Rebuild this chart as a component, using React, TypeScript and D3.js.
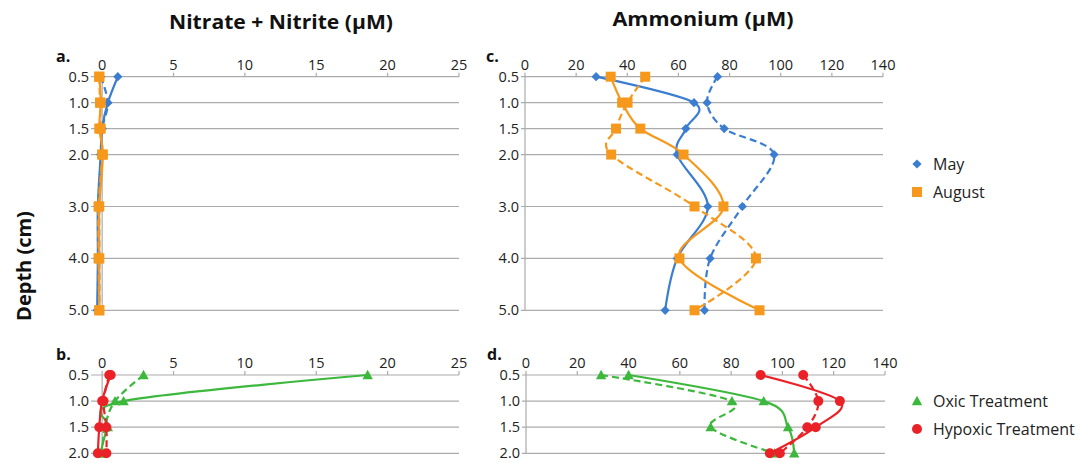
import React from 'react';
import * as d3 from 'd3';

// Depths (cm)
const depthsLong = [0.5, 1.0, 1.5, 2.0, 3.0, 4.0, 5.0];
const depthsShort = [0.5, 1.0, 1.5, 2.0];
const depthTickLabelsLong = [0.5, 1.0, 1.5, 2.0, 3.0, 4.0, 5.0];
const depthTickLabelsShort = [0.5, 1.0, 1.5, 2.0];

// x tick values
const nitrateTicks = [0, 5, 10, 15, 20, 25];
const ammoniumTicks = [0, 20, 40, 60, 80, 100, 120, 140];

// Panel a: Nitrate + Nitrite, May / August
const nitrateMaySolid = [1.1, 0.4, 0.0, -0.1, -0.3, -0.3, -0.35];
const nitrateMayDashed = [-0.1, 0.4, 0.0, -0.1, -0.2, -0.2, -0.2];
const nitrateAugSolid = [-0.2, -0.1, -0.2, 0.05, -0.2, -0.2, -0.2];
const nitrateAugDashed = [-0.2, -0.15, -0.1, 0.0, -0.25, -0.25, -0.2];

// Panel b: Nitrate + Nitrite, Oxic / Hypoxic
const nitrateOxicSolid = [18.6, 1.5, 0.4, -0.1];
const nitrateOxicDashed = [2.9, 0.9, 0.2, 0.0];
const nitrateHypoxicSolid = [0.6, 0.0, -0.2, -0.3];
const nitrateHypoxicDashed = [0.5, 0.1, 0.3, 0.3];

// Panel c: Ammonium, May / August
const ammMaySolid = [27.8, 66.1, 62.9, 59.5, 71.5, 59.5, 54.8];
const ammMayDashed = [75.3, 71.2, 77.9, 97.4, 85.0, 72.4, 70.2];
const ammAugSolid = [33.5, 38.0, 45.1, 62.0, 77.6, 60.4, 91.7];
const ammAugDashed = [47.0, 40.1, 35.6, 33.7, 66.3, 90.3, 66.3];

// Panel d: Ammonium, Oxic / Hypoxic
const ammOxicSolid = [40.0, 92.7, 102.2, 104.6];
const ammOxicDashed = [29.3, 80.3, 72.0, 97.0];
const ammHypoxicSolid = [91.5, 122.4, 113.0, 95.1];
const ammHypoxicDashed = [108.1, 114.0, 109.7, 99.0];

const BLUE = '#3b7dd0';
const ORANGE = '#f6981c';
const GREEN = '#3cb83c';
const RED = '#ea2228';
const GRID = '#ababab';
const FONT = "'Open Sans', 'DejaVu Sans', sans-serif";

type Marker = 'diamond' | 'square' | 'triangle' | 'circle';

function MarkerShape({ type, x, y, color }: { type: Marker; x: number; y: number; color: string }) {
  if (type === 'diamond') {
    const s = 4.6;
    return <path d={`M${x},${y - s}L${x + s},${y}L${x},${y + s}L${x - s},${y}Z`} fill={color} />;
  }
  if (type === 'square') {
    const s = 5;
    return <rect x={x - s} y={y - s} width={2 * s} height={2 * s} fill={color} />;
  }
  if (type === 'triangle') {
    const s = 5.2;
    return <path d={`M${x},${y - s}L${x + s},${y + s * 0.8}L${x - s},${y + s * 0.8}Z`} fill={color} />;
  }
  return <circle cx={x} cy={y} r={5} fill={color} />;
}

type Series = { values: number[]; color: string; marker: Marker; dashed: boolean };

function Panel(props: {
  label: string;
  xDomain: [number, number];
  xRange: [number, number];
  yDomain: [number, number];
  yRange: [number, number];
  xTicks: number[];
  yTicks: number[];
  depths: number[];
  series: Series[];
}) {
  const { label, xDomain, xRange, yDomain, yRange, xTicks, yTicks, depths, series } = props;
  const x = d3.scaleLinear().domain(xDomain).range(xRange);
  const y = d3.scaleLinear().domain(yDomain).range(yRange);
  const y0 = y(yDomain[0]);
  const line = d3
    .line<[number, number]>()
    .x((d) => x(d[0]))
    .y((d) => y(d[1]))
    .curve(d3.curveCardinal.tension(0));
  return (
    <g>
      <text x={xRange[0] - 39} y={y0 - 15} fontFamily={FONT} fontWeight="bold" fontSize={16} fill="#111">
        {label}
      </text>
      {yTicks.map((t) => (
        <g key={t}>
          <line x1={xRange[0] - 4} x2={xRange[1]} y1={y(t)} y2={y(t)} stroke={GRID} strokeWidth={1.2} />
          <text
            x={xRange[0] - 6}
            y={y(t)}
            dy="0.35em"
            textAnchor="end"
            fontFamily={FONT}
            fontSize={14.5}
            fill="#222"
          >
            {t.toFixed(1)}
          </text>
        </g>
      ))}
      <line x1={x(0)} x2={x(0)} y1={y0} y2={yRange[1]} stroke={GRID} strokeWidth={1.2} />
      {xTicks.map((t) => (
        <g key={t}>
          <line x1={x(t)} x2={x(t)} y1={y0 - 4} y2={y0} stroke={GRID} strokeWidth={1.2} />
          <text x={x(t)} y={y0 - 7} textAnchor="middle" fontFamily={FONT} fontSize={14.5} fill="#222">
            {t}
          </text>
        </g>
      ))}
      {series.map((s, i) => {
        const pts: [number, number][] = s.values.map((v, j) => [v, depths[j]]);
        return (
          <g key={i}>
            <path
              d={line(pts) || ''}
              fill="none"
              stroke={s.color}
              strokeWidth={2.2}
              strokeDasharray={s.dashed ? '7,4' : undefined}
            />
            {pts.map((p, j) => (
              <MarkerShape key={j} type={s.marker} x={x(p[0])} y={y(p[1])} color={s.color} />
            ))}
          </g>
        );
      })}
    </g>
  );
}

export default function App() {
  const yLong: [number, number] = [76.7, 310.3];
  const yShort: [number, number] = [375, 453.3];
  return (
    <svg width={1087} height={463} style={{ position: 'absolute', left: 0, top: 0, background: '#fff' }}>
      <text x={281} y={29} textAnchor="middle" fontFamily={FONT} fontWeight="bold" fontSize={19} fill="#111" textLength={224} lengthAdjust="spacingAndGlyphs">
        Nitrate + Nitrite (µM)
      </text>
      <text x={703} y={26} textAnchor="middle" fontFamily={FONT} fontWeight="bold" fontSize={19} fill="#111" textLength={181} lengthAdjust="spacingAndGlyphs">
        Ammonium (µM)
      </text>
      <text
        transform="translate(31,266) rotate(-90)"
        textAnchor="middle"
        fontFamily={FONT}
        fontWeight="bold"
        fontSize={20}
        fill="#111"
      >
        Depth (cm)
      </text>

      <Panel
        label="a."
        xDomain={[-0.5, 25]}
        xRange={[95, 459]}
        yDomain={[0.5, 5]}
        yRange={yLong}
        xTicks={nitrateTicks}
        yTicks={depthTickLabelsLong}
        depths={depthsLong}
        series={[
          { values: nitrateMaySolid, color: BLUE, marker: 'diamond', dashed: false },
          { values: nitrateMayDashed, color: BLUE, marker: 'diamond', dashed: true },
          { values: nitrateAugSolid, color: ORANGE, marker: 'square', dashed: false },
          { values: nitrateAugDashed, color: ORANGE, marker: 'square', dashed: true },
        ]}
      />
      <Panel
        label="b."
        xDomain={[-0.5, 25]}
        xRange={[95, 459]}
        yDomain={[0.5, 2]}
        yRange={yShort}
        xTicks={nitrateTicks}
        yTicks={depthTickLabelsShort}
        depths={depthsShort}
        series={[
          { values: nitrateOxicSolid, color: GREEN, marker: 'triangle', dashed: false },
          { values: nitrateOxicDashed, color: GREEN, marker: 'triangle', dashed: true },
          { values: nitrateHypoxicSolid, color: RED, marker: 'circle', dashed: false },
          { values: nitrateHypoxicDashed, color: RED, marker: 'circle', dashed: true },
        ]}
      />
      <Panel
        label="c."
        xDomain={[0, 140]}
        xRange={[525, 883]}
        yDomain={[0.5, 5]}
        yRange={yLong}
        xTicks={ammoniumTicks}
        yTicks={depthTickLabelsLong}
        depths={depthsLong}
        series={[
          { values: ammMaySolid, color: BLUE, marker: 'diamond', dashed: false },
          { values: ammMayDashed, color: BLUE, marker: 'diamond', dashed: true },
          { values: ammAugSolid, color: ORANGE, marker: 'square', dashed: false },
          { values: ammAugDashed, color: ORANGE, marker: 'square', dashed: true },
        ]}
      />
      <Panel
        label="d."
        xDomain={[0, 140]}
        xRange={[526, 885]}
        yDomain={[0.5, 2]}
        yRange={yShort}
        xTicks={ammoniumTicks}
        yTicks={depthTickLabelsShort}
        depths={depthsShort}
        series={[
          { values: ammOxicSolid, color: GREEN, marker: 'triangle', dashed: false },
          { values: ammOxicDashed, color: GREEN, marker: 'triangle', dashed: true },
          { values: ammHypoxicSolid, color: RED, marker: 'circle', dashed: false },
          { values: ammHypoxicDashed, color: RED, marker: 'circle', dashed: true },
        ]}
      />

      {/* Legends */}
      <MarkerShape type="diamond" x={917} y={164} color={BLUE} />
      <text x={933} y={164} dy="0.35em" fontFamily={FONT} fontSize={16} fill="#222">May</text>
      <MarkerShape type="square" x={917} y={192} color={ORANGE} />
      <text x={933} y={192} dy="0.35em" fontFamily={FONT} fontSize={16} fill="#222">August</text>
      <MarkerShape type="triangle" x={917} y={401} color={GREEN} />
      <text x={933} y={401} dy="0.35em" fontFamily={FONT} fontSize={16} fill="#222">Oxic Treatment</text>
      <MarkerShape type="circle" x={917} y={429} color={RED} />
      <text x={933} y={429} dy="0.35em" fontFamily={FONT} fontSize={16} fill="#222">Hypoxic Treatment</text>
    </svg>
  );
}
